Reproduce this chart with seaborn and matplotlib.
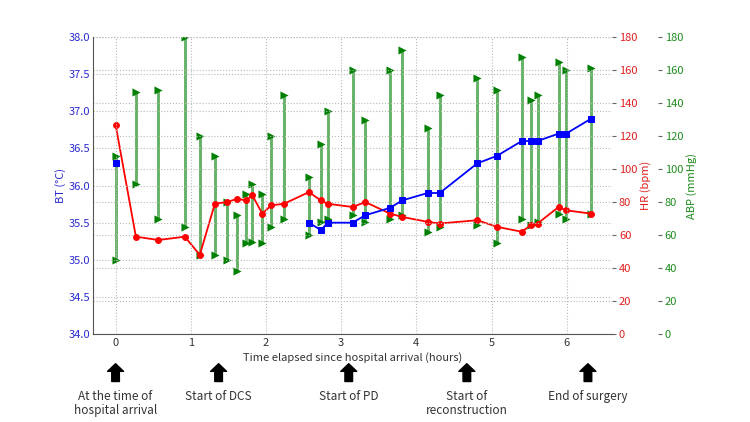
import numpy as np
import pandas as pd
import matplotlib
matplotlib.use("Agg")
import matplotlib.pyplot as plt
import seaborn as sns

# time points (hours since hospital arrival)
hours = [0.0, 0.27, 0.57, 0.92, 1.12, 1.32, 1.48, 1.62, 1.73, 1.82,
         1.95, 2.07, 2.24, 2.57, 2.73, 2.82, 3.15, 3.32, 3.65, 3.81,
         4.15, 4.31, 4.81, 5.07, 5.40, 5.52, 5.61, 5.89, 5.99, 6.32]
hr = [127, 59, 57, 59, 48, 79, 80, 82, 81, 84,
      73, 78, 79, 86, 81, 79, 77, 80, 73, 71,
      68, 67, 69, 65, 62, 66, 67, 77, 75, 73]
bt = [36.3, None, None, None, None, None, None, None, None, None,
      None, None, None, 35.5, 35.4, 35.5, 35.5, 35.6, 35.7, 35.8,
      35.9, 35.9, 36.3, 36.4, 36.6, 36.6, 36.6, 36.7, 36.7, 36.9]
abp_sys = [108, 147, 148, 180, 120, 108, 80, 72, 85, 91,
           85, 120, 145, 95, 115, 135, 160, 130, 160, 172,
           125, 145, 155, 148, 168, 142, 145, 165, 160, 161]
abp_dia = [45, 91, 70, 65, 48, 48, 45, 38, 55, 56,
           55, 65, 70, 60, 68, 70, 72, 68, 70, 72,
           62, 65, 66, 55, 70, 66, 68, 73, 70, 73]

event_hours = [0.0, 1.37, 3.10, 4.67, 6.28]
event_labels = ["At the time of\nhospital arrival", "Start of DCS", "Start of PD",
                "Start of\nreconstruction", "End of surgery"]

sns.set_style("white")
plt.rcParams["font.family"] = ["Noto Sans CJK JP", "DejaVu Sans"]

df = pd.DataFrame({"hours": hours, "hr": hr, "bt": bt, "sys": abp_sys, "dia": abp_dia})
df["bt"] = df["bt"].astype(float)
df["seg"] = df["bt"].isna().cumsum()
bt_df = df.dropna(subset=["bt"])

blue_c = "#2a2ad0"
red_c = "#e02020"
green_c = "#1e8c1e"

fig, ax = plt.subplots(figsize=(7.5, 4.22), dpi=100)
fig.subplots_adjust(left=0.124, right=0.816, top=0.912, bottom=0.2085)
ax_hr = ax.twinx()
ax_abp = ax.twinx()
ax_abp.spines["right"].set_position(("outward", 33))

ax.set_zorder(3)
ax_hr.set_zorder(2)
ax_abp.set_zorder(1)
ax.patch.set_visible(False)
ax_hr.patch.set_visible(False)

# ABP: range bars with triangle markers
ax_abp.vlines(df["hours"], df["dia"], df["sys"], color="green", lw=2.1, alpha=0.6)
sns.scatterplot(x=df["hours"], y=df["sys"], ax=ax_abp, marker=">", color="green", s=34, linewidth=0)
sns.scatterplot(x=df["hours"], y=df["dia"], ax=ax_abp, marker=">", color="green", s=34, linewidth=0)

# HR
sns.lineplot(data=df, x="hours", y="hr", ax=ax_hr, color="red", marker="o",
             markersize=4.2, markeredgecolor="red", lw=1.3)

# BT
sns.lineplot(data=bt_df, x="hours", y="bt", units="seg", estimator=None, ax=ax,
             color="blue", marker="s", markersize=3.8, markeredgecolor="blue", lw=1.3)

ax.set_xlim(-0.3, 6.6)
ax.set_ylim(34, 38)
ax_hr.set_ylim(0, 180)
ax_abp.set_ylim(0, 180)
ax.set_xticks(range(0, 7))
ax.set_yticks(np.arange(34, 38.01, 0.5))
ax.set_yticklabels([f"{v:.1f}" for v in np.arange(34, 38.01, 0.5)])
ax_hr.set_yticks(range(0, 181, 20))
ax_abp.set_yticks(range(0, 181, 20))

ax.grid(True, ls=":", color="#b8b8b8", lw=0.8)
ax_hr.grid(True, axis="y", ls=":", color="#b8b8b8", lw=0.8)

for a in (ax, ax_hr, ax_abp):
    a.spines["top"].set_visible(False)
    a.spines["right"].set_visible(False)
for a in (ax_hr, ax_abp):
    a.spines["left"].set_visible(False)
    a.spines["bottom"].set_visible(False)
ax.spines["left"].set_color("#555555")
ax.spines["bottom"].set_color("#555555")

ax.tick_params(axis="y", labelcolor=blue_c, length=0, labelsize=8, pad=2)
ax.tick_params(axis="x", labelcolor="#333333", length=0, labelsize=8, pad=3)
ax_hr.tick_params(axis="y", labelcolor=red_c, color="#666666", length=3, labelsize=8, pad=2)
ax_abp.tick_params(axis="y", labelcolor=green_c, color="#666666", length=3, labelsize=8, pad=2)

ax.set_ylabel("BT (°C)", color=blue_c, fontsize=8, labelpad=2)
ax_hr.set_ylabel("HR (bpm)", color=red_c, fontsize=8, labelpad=2)
ax_abp.set_ylabel("ABP (mmHg)", color=green_c, fontsize=8, labelpad=2)
ax.set_xlabel("Time elapsed since hospital arrival (hours)", fontsize=8, labelpad=3, color="#333333")

# event arrows below the axis
trans = ax.get_xaxis_transform()
for t, lab in zip(event_hours, event_labels):
    ax.annotate("", xy=(t, -0.10), xytext=(t, -0.16), xycoords=trans, textcoords=trans,
                arrowprops=dict(arrowstyle="simple,head_length=0.55,head_width=1.15,tail_width=0.55",
                                color="black", shrinkA=0, shrinkB=0),
                annotation_clip=False)
    ax.text(t, -0.187, lab, transform=trans, ha="center", va="top", fontsize=8.5,
            color="#333333", linespacing=1.1)

fig.savefig("out.png", dpi=100)
